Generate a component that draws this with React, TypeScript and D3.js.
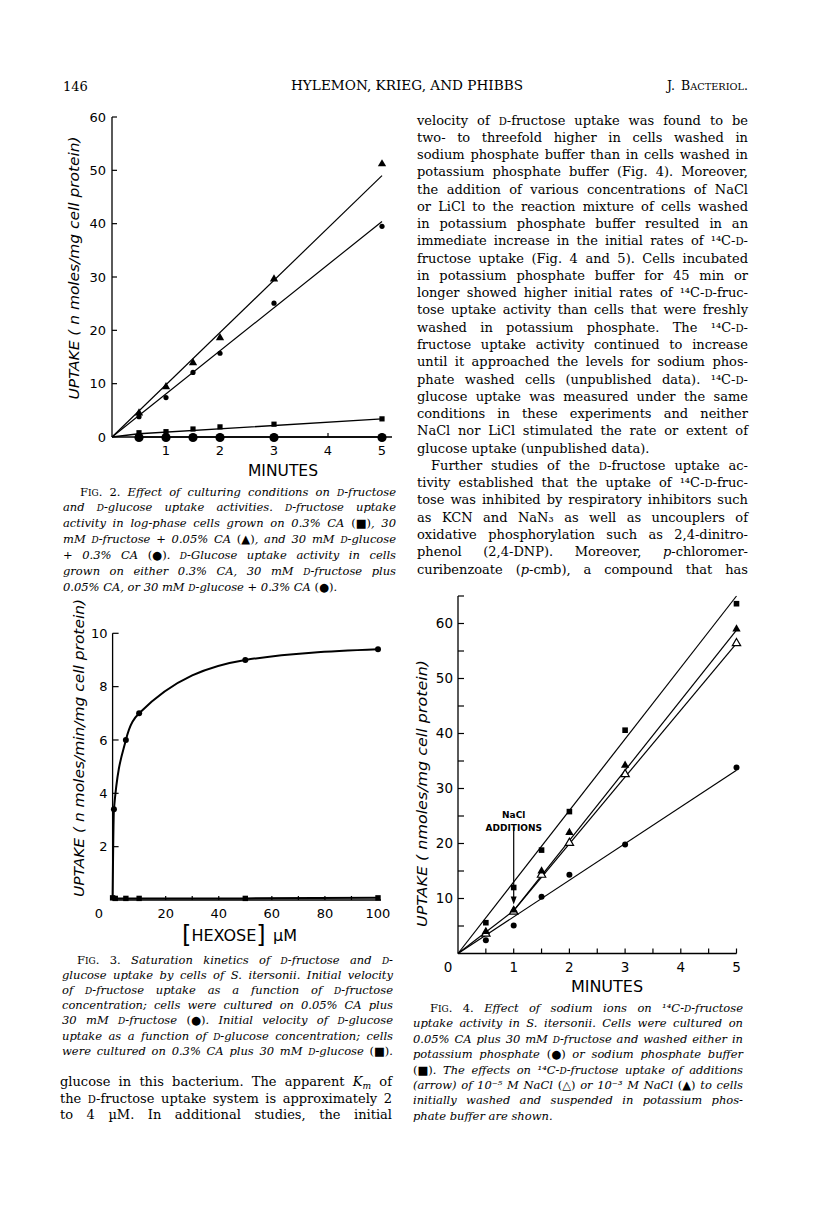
import React, { useLayoutEffect, useRef } from 'react';
import * as d3 from 'd3';

// ---------- Fig. 2 data ----------
const fig2Minutes = [0.5, 1, 1.5, 2, 3, 5];
const fig2Casamino = [0.8, 1.0, 1.5, 1.9, 2.4, 3.4]; // squares
const fig2FructoseGrown = [4.5, 9.4, 13.9, 18.6, 29.6, 51.2]; // triangles
const fig2GlucoseGrownFructoseUptake = [3.8, 7.4, 12.1, 15.7, 25.1, 39.5]; // small circles
const fig2GlucoseUptake = [0, 0, 0, 0, 0, 0]; // large circles
const fig2FitTriangle: [number, number][] = [[0, 0], [5, 49]];
const fig2FitCircle: [number, number][] = [[0, 0], [5, 40.4]];
const fig2FitSquare: [number, number][] = [[0, 0], [0.5, 0.6], [5, 3.4]];
const fig2YTicks = [0, 10, 20, 30, 40, 50, 60];
const fig2XTicks = [1, 2, 3, 4, 5];

// ---------- Fig. 3 data ----------
const fig3FructoseConc = [0.5, 5, 10, 50, 100];
const fig3FructoseRate = [3.4, 6.0, 7.0, 9.0, 9.4];
const fig3CurveStart: [number, number] = [0, 0];
const fig3GlucoseConc = [0, 1, 5, 10, 50, 100];
const fig3GlucoseRate = [0.08, 0.06, 0.06, 0.06, 0.06, 0.08];
const fig3YTicks = [2, 4, 6, 8, 10];
const fig3XLabels = [20, 40, 60, 80, 100];
const fig3XTicks = [10, 20, 30, 40, 50, 60, 70, 80, 90, 100];

// ---------- Fig. 4 data ----------
const fig4Minutes = [0.5, 1, 1.5, 2, 3, 5];
const fig4Sodium = [5.6, 12.0, 18.8, 25.8, 40.6, 63.6]; // squares
const fig4Potassium = [2.4, 5.1, 10.3, 14.3, 19.8, 33.8]; // circles
const fig4NaCl3 = [4.0, 7.9, 15.0, 22.0, 34.2, 59.0]; // filled triangles
const fig4NaCl5 = [3.6, 7.6, 14.3, 20.1, 32.6, 56.4]; // open triangles
const fig4FitSodium: [number, number][] = [[0, 0], [5, 65]];
const fig4FitPotassium: [number, number][] = [[0, 0], [5, 33.3]];
const fig4FitPre: [number, number][] = [[0, 0], [1, 7.8]];
const fig4FitNaCl3: [number, number][] = [[1, 7.8], [5, 58.8]];
const fig4FitNaCl5: [number, number][] = [[1, 7.8], [5, 56.4]];
const fig4ArrowX = 1;
const fig4ArrowTop = 23;
const fig4ArrowTip = 8.9;
const fig4YTicks = [5, 10, 15, 20, 25, 30, 35, 40, 45, 50, 55, 60, 65];
const fig4YLabels = [10, 20, 30, 40, 50, 60];
const fig4XTicks = [0.5, 1, 1.5, 2, 2.5, 3, 3.5, 4, 4.5, 5];
const fig4XLabels = [1, 2, 3, 4, 5];

// ---------- Text ----------
const rightColumn = [
  'velocity of [d]-fructose uptake was found to be',
  'two- to threefold higher in cells washed in',
  'sodium phosphate buffer than in cells washed in',
  'potassium phosphate buffer (Fig. 4). Moreover,',
  'the addition of various concentrations of NaCl',
  'or LiCl to the reaction mixture of cells washed',
  'in potassium phosphate buffer resulted in an',
  'immediate increase in the initial rates of ¹⁴C-[d]-',
  'fructose uptake (Fig. 4 and 5). Cells incubated',
  'in potassium phosphate buffer for 45 min or',
  'longer showed higher initial rates of ¹⁴C-[d]-fruc-',
  'tose uptake activity than cells that were freshly',
  'washed in potassium phosphate. The ¹⁴C-[d]-',
  'fructose uptake activity continued to increase',
  'until it approached the levels for sodium phos-',
  'phate washed cells (unpublished data). ¹⁴C-[d]-',
  'glucose uptake was measured under the same',
  'conditions in these experiments and neither',
  'NaCl nor LiCl stimulated the rate or extent of',
  'glucose uptake (unpublished data).',
  'Further studies of the [d]-fructose uptake ac-',
  'tivity established that the uptake of ¹⁴C-[d]-fruc-',
  'tose was inhibited by respiratory inhibitors such',
  'as KCN and NaN₃ as well as uncouplers of',
  'oxidative phosphorylation such as 2,4-dinitro-',
  'phenol (2,4-DNP). Moreover, {p}-chloromer-',
  'curibenzoate ({p}-cmb), a compound that has',
];
const rightColumnParagraphEnd = [19];
const rightColumnIndent = [20];

const leftColumn = [
  'glucose in this bacterium. The apparent {K‹m›} of',
  'the [d]-fructose uptake system is approximately 2',
  'to 4 µM. In additional studies, the initial',
];

const fig2Caption = [
  '{F[ig]. 2.} Effect of culturing conditions on [d]-fructose',
  'and [d]-glucose uptake activities. [d]-fructose uptake',
  'activity in log-phase cells grown on 0.3% CA {(■)}, 30',
  'mM [d]-fructose + 0.05% CA {(▲)}, and 30 mM [d]-glucose',
  '+ 0.3% CA {(●)}. [d]-Glucose uptake activity in cells',
  'grown on either 0.3% CA, 30 mM [d]-fructose plus',
  '0.05% CA, or 30 mM [d]-glucose + 0.3% CA {(●)}.',
];
const fig3Caption = [
  '{F[ig]. 3.} Saturation kinetics of [d]-fructose and [d]-',
  'glucose uptake by cells of S. itersonii. Initial velocity',
  'of [d]-fructose uptake as a function of [d]-fructose',
  'concentration; cells were cultured on 0.05% CA plus',
  '30 mM [d]-fructose {(●)}. Initial velocity of [d]-glucose',
  'uptake as a function of [d]-glucose concentration; cells',
  'were cultured on 0.3% CA plus 30 mM [d]-glucose {(■)}.',
];
const fig4Caption = [
  '{F[ig]. 4.} Effect of sodium ions on ¹⁴C-[d]-fructose',
  'uptake activity in S. itersonii. Cells were cultured on',
  '0.05% CA plus 30 mM [d]-fructose and washed either in',
  'potassium phosphate {(●)} or sodium phosphate buffer',
  '{(■)}. The effects on ¹⁴C-[d]-fructose uptake of additions',
  '(arrow) of 10⁻⁵ M NaCl {(△)} or 10⁻³ M NaCl {(▲)} to cells',
  'initially washed and suspended in potassium phos-',
  'phate buffer are shown.',
];

const SERIF = "'DejaVu Serif', serif";
const SANS = "'DejaVu Sans', sans-serif";
const INK = '#000';

type Run = { text: string; italic: boolean; caps: boolean; sub: boolean };
function parse(s: string, baseItalic: boolean): Run[] {
  const runs: Run[] = [];
  let italic = baseItalic, caps = false, sub = false, buf = '';
  const flush = () => {
    if (buf) { runs.push({ text: buf, italic, caps, sub }); buf = ''; }
  };
  for (const ch of s) {
    if (ch === '{' || ch === '}') { flush(); italic = !italic; }
    else if (ch === '[') { flush(); caps = true; }
    else if (ch === ']') { flush(); caps = false; }
    else if (ch === '‹') { flush(); sub = true; }
    else if (ch === '›') { flush(); sub = false; }
    else buf += ch;
  }
  flush();
  return runs;
}

function Line(props: { x: number; y: number; width: number; text: string; justify: boolean; italic?: boolean; size: number; family?: string }) {
  const { x, y, width, text, justify, italic = false, size, family = SERIF } = props;
  const ref = useRef<SVGTextElement>(null);
  const runs = parse(text, italic);
  const plain = runs.map((r) => r.text).join('');
  useLayoutEffect(() => {
    const el = ref.current;
    if (!el || !justify) return;
    const fit = () => {
      el.removeAttribute('textLength');
      el.removeAttribute('lengthAdjust');
      el.setAttribute('word-spacing', '0');
      const w = el.getComputedTextLength();
      const n = (plain.match(/ /g) || []).length;
      if (n > 0) el.setAttribute('word-spacing', ((width - w) / n).toFixed(3));
      const w2 = el.getComputedTextLength();
      if (Math.abs(w2 - width) > 1.5) {
        el.setAttribute('word-spacing', '0');
        el.setAttribute('textLength', String(width));
        el.setAttribute('lengthAdjust', 'spacing');
      }
    };
    fit();
    const f: any = (document as any).fonts;
    if (f && f.ready) f.ready.then(fit);
  }, [plain, width, justify]);
  let prevSub = false;
  return (
    <text ref={ref} x={x} y={y} fontFamily={family} fontSize={size} fill={INK}>
      {runs.map((r, i) => {
        let dy: number | undefined;
        if (r.sub && !prevSub) dy = size * 0.25;
        else if (!r.sub && prevSub) dy = -size * 0.25;
        prevSub = r.sub;
        return (
          <tspan key={i} dy={dy} fontStyle={r.italic ? 'italic' : 'normal'}
            fontSize={r.caps ? '0.78em' : r.sub ? '0.7em' : undefined}>
            {r.caps ? r.text.toUpperCase() : r.text}
          </tspan>
        );
      })}
    </text>
  );
}

function Block(props: { lines: string[]; x: number; y0: number; pitch: number; width: number; size: number; italic?: boolean; noJustify?: number[]; indent?: Record<number, number> }) {
  const { lines, x, y0, pitch, width, size, italic = false, noJustify = [], indent = {} } = props;
  return (
    <g>
      {lines.map((l, i) => {
        const ind = indent[i] || 0;
        return (
          <Line key={i} x={x + ind} y={y0 + i * pitch} width={width - ind} text={l}
            justify={!noJustify.includes(i)} italic={italic} size={size} />
        );
      })}
    </g>
  );
}

const triPath = (area: number) => d3.symbol(d3.symbolTriangle, area)() as string;

function Fig2() {
  const x = d3.scaleLinear().domain([0, 5]).range([112, 382]);
  const y = d3.scaleLinear().domain([0, 60]).range([437, 117]);
  const line = d3.line<[number, number]>().x((d) => x(d[0])).y((d) => y(d[1]));
  const tri = triPath(30);
  return (
    <g>
      <line x1={x(0)} x2={x(5) + 10} y1={y(0)} y2={y(0)} stroke={INK} strokeWidth={1.5} />
      <line x1={x(0)} x2={x(0)} y1={y(0)} y2={y(60)} stroke={INK} strokeWidth={1.3} />
      {fig2YTicks.map((t) => (
        <g key={t}>
          {t > 0 && <line x1={x(0)} x2={x(0) + 5} y1={y(t)} y2={y(t)} stroke={INK} strokeWidth={1.2} />}
          <text x={106} y={y(t)} dy="0.36em" textAnchor="end" fontFamily={SANS} fontSize={13} fill={INK}>{t}</text>
        </g>
      ))}
      {fig2XTicks.map((t) => (
        <g key={t}>
          <line x1={x(t)} x2={x(t)} y1={y(0)} y2={y(0) - 4} stroke={INK} strokeWidth={1.2} />
          <text x={x(t)} y={y(0) + 13} dy="0.36em" textAnchor="middle" fontFamily={SANS} fontSize={13} fill={INK}>{t}</text>
        </g>
      ))}
      <text x={283} y={476} textAnchor="middle" fontFamily={SANS} fontSize={15.5} fill={INK}>MINUTES</text>
      <text transform="translate(75,268) rotate(-90)" textAnchor="middle" dominantBaseline="middle"
        fontFamily={SANS} fontStyle="italic" fontSize={14} fill={INK} textLength={263} lengthAdjust="spacingAndGlyphs">
        UPTAKE ( n moles/mg cell protein)
      </text>
      <path d={line(fig2FitTriangle) as string} fill="none" stroke={INK} strokeWidth={1.2} />
      <path d={line(fig2FitCircle) as string} fill="none" stroke={INK} strokeWidth={1.2} />
      <path d={line(fig2FitSquare) as string} fill="none" stroke={INK} strokeWidth={1.4} />
      <path d={line(fig2Minutes.map((m) => [m, 0] as [number, number])) as string} fill="none" stroke={INK} strokeWidth={1.5} />
      {fig2Minutes.map((m, i) => (
        <g key={m}>
          <path d={tri} transform={`translate(${x(m)},${y(fig2FructoseGrown[i])})`} fill={INK} />
          <circle cx={x(m)} cy={y(fig2GlucoseGrownFructoseUptake[i])} r={2.6} fill={INK} />
          <rect x={x(m) - 2.6} y={y(fig2Casamino[i]) - 2.6} width={5.2} height={5.2} fill={INK} />
          <circle cx={x(m)} cy={y(fig2GlucoseUptake[i]) + 0.5} r={4.6} fill={INK} />
        </g>
      ))}
    </g>
  );
}

function Fig3() {
  const x = d3.scaleLinear().domain([0, 100]).range([112.6, 378]);
  const y = d3.scaleLinear().domain([0, 10]).range([900, 633.3]);
  const curve = d3.line<[number, number]>().x((d) => x(d[0])).y((d) => y(d[1])).curve(d3.curveMonotoneX);
  const pts: [number, number][] = [fig3CurveStart, ...fig3FructoseConc.map((c, i) => [c, fig3FructoseRate[i]] as [number, number])];
  const gpts: [number, number][] = fig3GlucoseConc.map((c, i) => [c, fig3GlucoseRate[i]] as [number, number]);
  const flat = d3.line<[number, number]>().x((d) => x(d[0])).y((d) => y(d[1]));
  return (
    <g>
      <line x1={x(0)} x2={x(100) + 3} y1={y(0)} y2={y(0)} stroke={INK} strokeWidth={1.6} />
      <line x1={x(0)} x2={x(0)} y1={y(0)} y2={y(10)} stroke={INK} strokeWidth={1.3} />
      {fig3YTicks.map((t) => (
        <g key={t}>
          <line x1={x(0)} x2={x(0) + 6} y1={y(t)} y2={y(t)} stroke={INK} strokeWidth={1.2} />
          <text x={107.5} y={y(t)} dy="0.36em" textAnchor="end" fontFamily={SANS} fontSize={13} fill={INK}>{t}</text>
        </g>
      ))}
      {fig3XTicks.map((t) => (
        <line key={t} x1={x(t)} x2={x(t)} y1={y(0)} y2={y(0) - 4} stroke={INK} strokeWidth={1.2} />
      ))}
      {fig3XLabels.map((t) => (
        <text key={t} x={x(t)} y={913} dy="0.36em" textAnchor="middle" fontFamily={SANS} fontSize={13} fill={INK}>{t}</text>
      ))}
      <text x={99} y={913} dy="0.36em" textAnchor="middle" fontFamily={SANS} fontSize={13} fill={INK}>0</text>
      <text x={182} y={941} fontFamily={SANS} fontSize={16} fill={INK}>
        <tspan fontSize={24} dy={2}>[</tspan>
        <tspan dy={-2}>HEXOSE</tspan>
        <tspan fontSize={24} dy={2}>]</tspan>
      </text>
      <text x={273} y={941} fontFamily={SANS} fontSize={16} fill={INK}>µM</text>
      <text transform="translate(80,748) rotate(-90)" textAnchor="middle" dominantBaseline="middle"
        fontFamily={SANS} fontStyle="italic" fontSize={14} fill={INK} textLength={298} lengthAdjust="spacingAndGlyphs">
        UPTAKE ( n moles/min/mg cell protein)
      </text>
      <path d={curve(pts) as string} fill="none" stroke={INK} strokeWidth={2} />
      <path d={flat(gpts) as string} fill="none" stroke={INK} strokeWidth={2} />
      {fig3FructoseConc.map((c, i) => (
        <circle key={c} cx={x(c)} cy={y(fig3FructoseRate[i])} r={3} fill={INK} />
      ))}
      {gpts.map((d) => (
        <rect key={d[0]} x={x(d[0]) - 2.7} y={y(d[1]) - 2.7} width={5.4} height={5.4} fill={INK} />
      ))}
    </g>
  );
}

function Fig4() {
  const x = d3.scaleLinear().domain([0, 5]).range([458, 736.5]);
  const y = d3.scaleLinear().domain([0, 65]).range([953.5, 596]);
  const line = d3.line<[number, number]>().x((d) => x(d[0])).y((d) => y(d[1]));
  const tri = triPath(30);
  const ax = x(fig4ArrowX);
  const tipY = y(fig4ArrowTip);
  return (
    <g>
      <line x1={x(0)} x2={x(5)} y1={y(0)} y2={y(0)} stroke={INK} strokeWidth={1.4} />
      <line x1={x(0)} x2={x(0)} y1={y(0)} y2={y(65)} stroke={INK} strokeWidth={1.3} />
      {fig4YTicks.map((t) => (
        <line key={t} x1={x(0)} x2={x(0) + 6} y1={y(t)} y2={y(t)} stroke={INK} strokeWidth={1.2} />
      ))}
      {fig4YLabels.map((t) => (
        <text key={t} x={453} y={y(t)} dy="0.36em" textAnchor="end" fontFamily={SANS} fontSize={13.5} fill={INK}>{t}</text>
      ))}
      {fig4XTicks.map((t) => (
        <line key={t} x1={x(t)} x2={x(t)} y1={y(0)} y2={y(0) - 5} stroke={INK} strokeWidth={1.2} />
      ))}
      {fig4XLabels.map((t) => (
        <text key={t} x={x(t)} y={967} dy="0.36em" textAnchor="middle" fontFamily={SANS} fontSize={13.5} fill={INK}>{t}</text>
      ))}
      <text x={448} y={967} dy="0.36em" textAnchor="middle" fontFamily={SANS} fontSize={13.5} fill={INK}>0</text>
      <text x={607} y={992} textAnchor="middle" fontFamily={SANS} fontSize={16} fill={INK}>MINUTES</text>
      <text transform="translate(423,793.5) rotate(-90)" textAnchor="middle" dominantBaseline="middle"
        fontFamily={SANS} fontStyle="italic" fontSize={14.5} fill={INK} textLength={267} lengthAdjust="spacingAndGlyphs">
        UPTAKE ( nmoles/mg cell protein)
      </text>
      <text x={ax} y={818} textAnchor="middle" fontFamily={SANS} fontWeight="bold" fontSize={9} fill={INK}>NaCl</text>
      <text x={ax} y={831} textAnchor="middle" fontFamily={SANS} fontWeight="bold" fontSize={9} fill={INK}>ADDITIONS</text>
      <line x1={ax} x2={ax} y1={y(fig4ArrowTop)} y2={tipY - 4} stroke={INK} strokeWidth={1.2} />
      <path d={`M${ax - 3},${tipY - 8} L${ax + 3},${tipY - 8} L${ax},${tipY} Z`} fill={INK} />
      <path d={line(fig4FitSodium) as string} fill="none" stroke={INK} strokeWidth={1.2} />
      <path d={line(fig4FitPotassium) as string} fill="none" stroke={INK} strokeWidth={1.2} />
      <path d={line(fig4FitPre) as string} fill="none" stroke={INK} strokeWidth={1.2} />
      <path d={line(fig4FitNaCl3) as string} fill="none" stroke={INK} strokeWidth={1.2} />
      <path d={line(fig4FitNaCl5) as string} fill="none" stroke={INK} strokeWidth={1.2} />
      {fig4Minutes.map((m, i) => (
        <g key={m}>
          <rect x={x(m) - 2.8} y={y(fig4Sodium[i]) - 2.8} width={5.6} height={5.6} fill={INK} />
          <circle cx={x(m)} cy={y(fig4Potassium[i])} r={3} fill={INK} />
          <path d={tri} transform={`translate(${x(m)},${y(fig4NaCl5[i])})`} fill="#fff" stroke={INK} strokeWidth={1.2} />
          <path d={tri} transform={`translate(${x(m)},${y(fig4NaCl3[i])})`} fill={INK} />
        </g>
      ))}
    </g>
  );
}

export default function App() {
  const rightPitch = 17.27;
  return (
    <svg width={816} height={1223} style={{ position: 'absolute', left: 0, top: 0, background: '#fff' }}>
      <rect x={0} y={0} width={816} height={1223} fill="#fff" />
      {/* header */}
      <text x={63} y={91} fontFamily={SERIF} fontSize={13} fill={INK}>146</text>
      <text x={291} y={90} fontFamily={SERIF} fontSize={12.5} fill={INK} textLength={232} lengthAdjust="spacingAndGlyphs">HYLEMON, KRIEG, AND PHIBBS</text>
      <Line x={667} y={90} width={81} text="J. B[acteriol]." justify={true} size={12.5} />

      {/* right column text */}
      <Block lines={rightColumn} x={417} y0={124.5} pitch={rightPitch} width={331} size={13}
        noJustify={rightColumnParagraphEnd} indent={{ [rightColumnIndent[0]]: 14 }} />

      {/* left column bottom text */}
      <Block lines={leftColumn} x={60} y0={1086} pitch={16.7} width={332} size={13} />

      {/* captions */}
      <Block lines={fig2Caption} x={63} y0={495.5} pitch={15.85} width={333} size={11.5} italic={true}
        noJustify={[6]} indent={{ 0: 17 }} />
      <Block lines={fig3Caption} x={62} y0={964} pitch={15.1} width={331} size={11.5} italic={true}
        indent={{ 0: 15 }} />
      <Block lines={fig4Caption} x={413} y0={1012} pitch={15.4} width={330} size={11.5} italic={true}
        noJustify={[7]} indent={{ 0: 17 }} />

      <Fig2 />
      <Fig3 />
      <Fig4 />
    </svg>
  );
}
